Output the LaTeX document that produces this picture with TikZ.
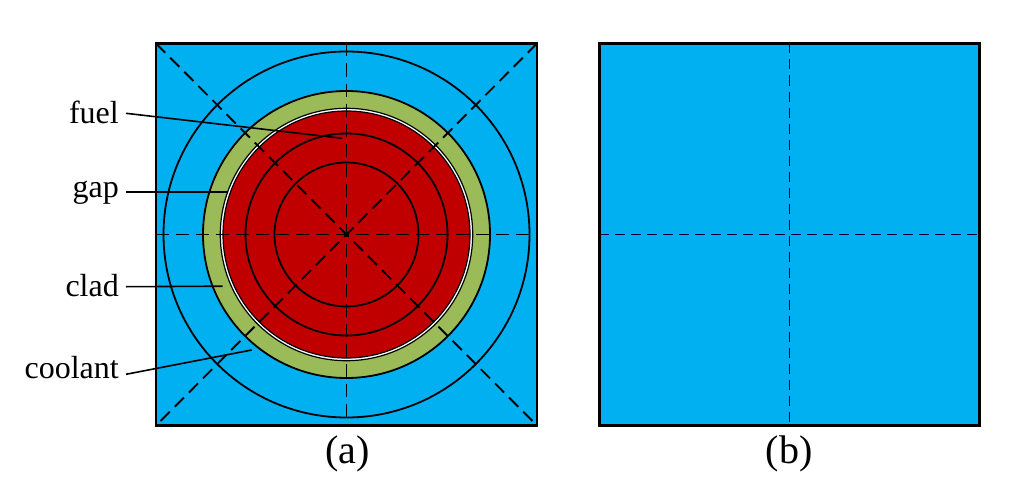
\documentclass[tikz,border=0pt]{standalone}
\usepackage{fontspec}
\setmainfont{Liberation Serif}
\definecolor{coolc}{HTML}{00B0F0}
\definecolor{cladc}{HTML}{9BBB59}
\definecolor{fuelc}{HTML}{C00000}
\begin{document}
\begin{tikzpicture}[x=1pt,y=-1pt,
  lab/.style={font=\fontsize{32}{38}\selectfont, inner sep=0pt, anchor=base east},
  capt/.style={font=\fontsize{40}{48}\selectfont, inner sep=0pt, anchor=base},
  ring/.style={draw=black, line width=1.8pt},
  frame/.style={draw=black, line width=2.4pt, fill=coolc},
  axis/.style={draw=black, line width=1.9pt, dash pattern=on 13pt off 7pt},
  thinaxis/.style={draw=black!80!blue, line width=1pt, dash pattern=on 10pt off 6pt},
  leader/.style={draw=black, line width=1.6pt}]
\useasboundingbox (0,0) rectangle (1009,495);
\fill[white] (0,0) rectangle (1009,495);
% ---- (a)
\coordinate (c) at (346.5,234.5);
\draw[frame] (156,43.5) rectangle (537,425.5);
\draw[ring] (c) circle (183);
\draw[ring, fill=cladc] (c) circle (143.5);
\draw[ring, line width=1.2pt, fill=white] (c) circle (126.2);
\draw[ring, line width=1.2pt, fill=fuelc] (c) circle (123.5);
\draw[ring] (c) circle (101);
\draw[ring] (c) circle (72);
\draw[axis] (346.5,43.5) -- (346.5,425.5);
\draw[axis, line width=1.3pt] (156,234.5) -- (537,234.5);
\draw[axis] (156,43.5) -- (537,425.5);
\draw[axis] (537,43.5) -- (156,425.5);
% labels
\node[lab] (fuel) at (119,123) {fuel};
\node[lab] (gap) at (119,197) {gap};
\node[lab] (clad) at (119,296.5) {clad};
\node[lab] (coolant) at (119,378) {coolant};
\coordinate (fuelA) at (126,113.3);
\coordinate (fuelB) at (342,138.3);
\coordinate (gapA) at (126,191.7);
\coordinate (gapB) at (228,191.7);
\coordinate (cladA) at (126,286.7);
\coordinate (cladB) at (222.7,286.2);
\coordinate (coolA) at (126,374.3);
\coordinate (coolB) at (251.7,350);
\draw[leader] (fuelA) -- (fuelB);
\draw[leader] (gapA) -- (gapB);
\draw[leader] (cladA) -- (cladB);
\draw[leader] (coolA) -- (coolB);
\node[capt] (capa) at (347.5,463) {(a)};
% ---- (b)
\draw[frame] (599.3,43.5) rectangle (979.3,425.5);
\draw[thinaxis] (789.3,43.5) -- (789.3,425.5);
\draw[thinaxis] (599.3,234.5) -- (979.3,234.5);
\node[capt] (capb) at (789.3,463) {(b)};
\end{tikzpicture}
\end{document}
